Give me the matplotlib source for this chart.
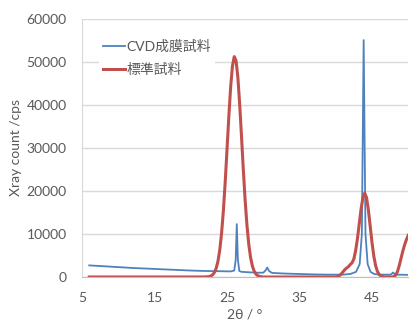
import matplotlib
matplotlib.use('Agg')
import matplotlib.pyplot as plt

plt.rcParams['font.family'] = ['Lato', 'Noto Sans CJK JP', 'DejaVu Sans']

# CVD film sample (blue)
cvd_x = [6, 8, 10, 12, 14, 16, 18, 20, 22, 24, 25.5, 26.0, 26.2, 26.35, 26.5, 26.7,
         27, 28, 29, 30, 30.3, 30.55, 30.8, 31.2, 33, 35, 37, 39, 41, 42, 42.8,
         43.3, 43.6, 43.85, 44.1, 44.4, 44.8, 45.3, 46, 47.6, 47.9, 48.2, 50]
cvd_y = [2700, 2500, 2300, 2100, 1950, 1800, 1650, 1500, 1400, 1350, 1300, 1500, 4000, 12300, 4000, 1400,
         1200, 1100, 1000, 1000, 1500, 2200, 1400, 950, 800, 700, 600, 550, 550, 700, 1200,
         3000, 10000, 55100, 10000, 3000, 1200, 700, 550, 550, 1050, 550, 500]

# standard sample (red)
std_x = [6, 10, 15, 20, 22, 22.5, 22.75, 23, 23.25, 23.5, 23.75, 24, 24.25, 24.5, 24.75,
         25, 25.25, 25.5, 25.75, 26, 26.25, 26.5, 26.75, 27, 27.25, 27.5, 27.75,
         28, 28.25, 28.5, 28.75, 29, 29.25, 29.5, 29.75, 30, 35, 40,
         40.25, 40.5, 40.75, 41, 41.25, 41.5, 41.75, 42, 42.25, 42.5, 42.75, 43,
         43.25, 43.5, 43.75, 44, 44.25, 44.5, 44.75, 45, 45.25, 45.5, 45.75, 46,
         46.25, 46.5, 46.75, 47.75, 48, 48.25, 48.5, 48.75, 49, 49.25, 49.5, 49.75, 50]
std_y = [0, 0, 0, 0, 10, 90, 220, 490, 1020, 1990, 3640, 6270, 10150, 15400, 22000,
         29600, 37250, 44100, 49050, 51250, 50290, 46400, 40170, 32700, 24970, 17900, 12100,
         7660, 4560, 2550, 1340, 660, 306, 130, 55, 0, 0, 0,
         100, 300, 700, 1200, 1700, 2100, 2400, 2900, 3300, 4200, 6200, 9000,
         12500, 15900, 18500, 19500, 18450, 15600, 11830, 8020, 4860, 2640, 1280, 560,
         220, 80, 0, 0, 100, 400, 1200, 2600, 4300, 6000, 7500, 8700, 9700]

x_ticks = [5, 15, 25, 35, 45]
y_ticks = [0, 10000, 20000, 30000, 40000, 50000, 60000]

fig = plt.figure(figsize=(4.09, 3.25), dpi=100)
ax = fig.add_axes([82 / 409, 48 / 325, 326.25 / 409, 258 / 325])

ax.plot(cvd_x, cvd_y, color='#4F81BD', lw=1.3, label='CVD成膜試料')
ax.plot(std_x, std_y, color='#C0504D', lw=2.2, label='標準試料')

ax.set_xlim(5, 50)
ax.set_ylim(0, 60000)
ax.set_xticks(x_ticks)
ax.set_yticks(y_ticks)
ax.yaxis.grid(True, color='#d9d9d9', lw=1)
ax.set_axisbelow(True)
ax.tick_params(length=0, labelsize=10, labelcolor='#595959', pad=11)

for s in ['top', 'right']:
    ax.spines[s].set_visible(False)
ax.spines['left'].set_color('#d9d9d9')
ax.spines['bottom'].set_color('#bfbfbf')

ax.set_ylabel('Xray count /cps', fontsize=10, color='#595959', labelpad=3)
ax.set_xlabel('2θ / °', fontsize=10, color='#595959', labelpad=3)

leg = ax.legend(loc='upper left', bbox_to_anchor=(0.03, 0.965), frameon=True,
                fontsize=10, handlelength=1.6, handletextpad=0.1,
                labelspacing=0.75, borderpad=0.3)
leg.get_frame().set_facecolor('white')
leg.get_frame().set_edgecolor('none')
leg.get_frame().set_alpha(1)
for t in leg.get_texts():
    t.set_color('#595959')

fig.savefig('out.png', dpi=100)
